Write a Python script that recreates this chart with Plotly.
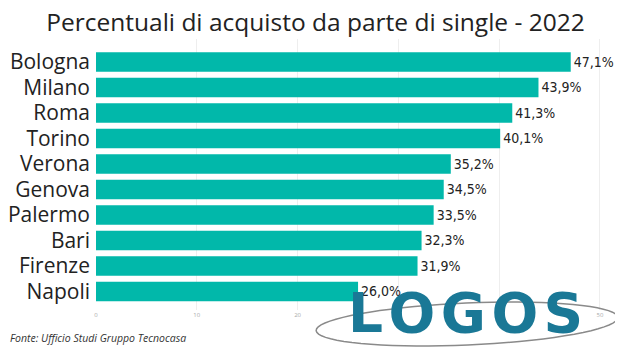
import math
import plotly.graph_objects as go

cities = ["Bologna", "Milano", "Roma", "Torino", "Verona", "Genova", "Palermo", "Bari", "Firenze", "Napoli"]
values = [47.1, 43.9, 41.3, 40.1, 35.2, 34.5, 33.5, 32.3, 31.9, 26.0]
labels = [f"{v:.1f}%".replace(".", ",") for v in values]
tick_vals = [0, 10, 20, 30, 40, 50]

W, H = 615, 347
ML, MR, MT, MB = 88, 18, 31, 45
PW, PH = W - ML - MR, H - MT - MB


def to_paper(px, py):
    # page pixel (browser has 8px body margin) -> paper coords
    fx, fy = px - 8, py - 8
    return (fx - ML) / PW, (MT + PH - fy) / PH


# decorative logo ellipse (tilted), built as an SVG path in paper coords
cx, cy, a, b, phi = 467, 324, 151, 21, math.radians(2.5)
pts = []
for i in range(73):
    t = 2 * math.pi * i / 72
    x = cx + a * math.cos(t) * math.cos(phi) - b * math.sin(t) * math.sin(phi)
    y = cy - (a * math.cos(t) * math.sin(phi) + b * math.sin(t) * math.cos(phi))
    pts.append(to_paper(x, y))
ellipse_path = "M " + " L ".join(f"{p[0]:.4f},{p[1]:.4f}" for p in pts) + " Z"

fig = go.Figure(go.Bar(
    x=values, y=cities, orientation="h",
    marker=dict(color="#01B8AA", line=dict(width=0)),
    text=labels, textposition="outside", cliponaxis=False,
    textfont=dict(family="DejaVu Sans Condensed, DejaVu Sans", size=14, color="#222222"),
))

logo_x, logo_y = to_paper(465, 312.5)
fonte_x, fonte_y = to_paper(8, 338)

fig.update_layout(
    width=W, height=H,
    margin=dict(l=ML, r=MR, t=MT, b=MB, autoexpand=False),
    paper_bgcolor="white", plot_bgcolor="white",
    bargap=0.235,
    showlegend=False,
    title=dict(text="Percentuali di acquisto da parte di single - 2022", x=0.5, xanchor="center",
               y=0.958, yanchor="middle",
               font=dict(family="Open Sans", size=24.5, color="#222222")),
    xaxis=dict(range=[0, 50.5], tickvals=tick_vals, showgrid=True, gridcolor="#EEEEEE", gridwidth=1,
               zeroline=False, showline=False, automargin=False,
               tickfont=dict(family="Open Sans", size=6, color="#AAAAAA"), ticks=""),
    yaxis=dict(categoryorder="array", categoryarray=cities, range=[9.73, -0.9],
               showgrid=False, ticks="", ticklabelstandoff=5, automargin=False,
               tickfont=dict(family="Open Sans", size=21, color="#222222")),
    annotations=[
        dict(text="<i>Fonte: Ufficio Studi Gruppo Tecnocasa</i>", xref="paper", yref="paper",
             x=fonte_x, y=fonte_y, xanchor="left", yanchor="middle", showarrow=False,
             font=dict(family="Open Sans", size=10.5, color="#333333")),
        dict(text="<b>L\u200aO\u200aG\u200aO\u200aS</b>", xref="paper", yref="paper", x=logo_x, y=logo_y,
             xanchor="center", yanchor="middle", showarrow=False,
             font=dict(family="DejaVu Sans", size=55, color="#1A7896")),
    ],
    shapes=[
        dict(type="path", xref="paper", yref="paper", path=ellipse_path, layer="above",
             line=dict(color="#8A8A8A", width=1.5)),
    ],
)

fig.write_html("out.html")
